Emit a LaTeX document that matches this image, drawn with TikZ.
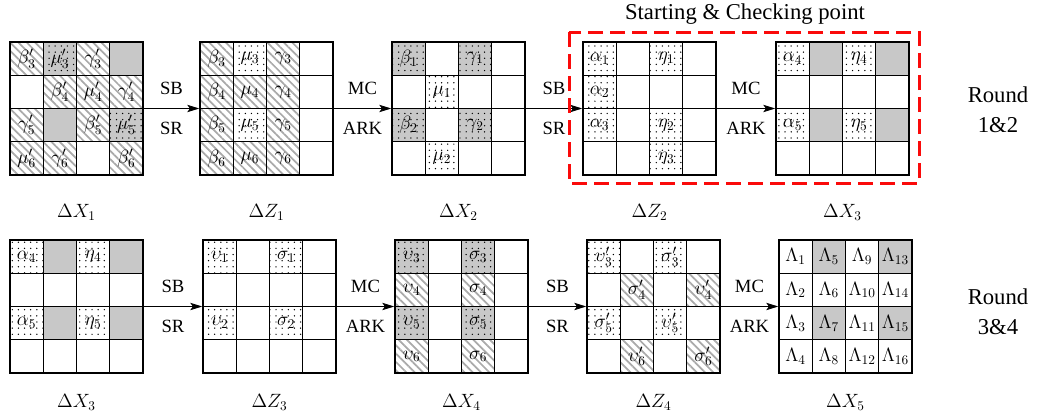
\documentclass[tikz,border=0pt]{standalone}
\usepackage{amsmath}
\usepackage{fontspec}
\setmainfont{Liberation Serif}
\usetikzlibrary{patterns.meta}
\usetikzlibrary{arrows.meta}
\usetikzlibrary{positioning}

\definecolor{cellgray}{RGB}{200,200,200}
\definecolor{hatchgray}{RGB}{170,170,170}
\definecolor{boxred}{RGB}{250,10,10}

\tikzset{
  cellnode/.style={minimum size=24.94pt, inner sep=0pt, font=\fontsize{14}{16}\selectfont},
  hatch/.style={pattern={Lines[angle=-45,distance=4.4pt,line width=1.3pt]}, pattern color=hatchgray},
  speck/.style={pattern={Dots[distance=4.6pt,radius=0.55pt]}, pattern color=black},
  greycell/.style={fill=cellgray},
  greyspeck/.style={preaction={fill=cellgray}, speck},
  blank/.style={},
  gridline/.style={line width=1.1pt},
  statenode/.style={draw, line width=1.1pt, minimum size=99.75pt, inner sep=0pt},
  statelabel/.style={inner sep=0pt, font=\fontsize{14}{16}\selectfont},
  flow/.style={-{Stealth[length=9pt,width=5.5pt,inset=2pt]}, line width=0.6pt},
  oplabel/.style={inner sep=0pt, font=\fontsize{14}{16}\selectfont},
  sidetext/.style={align=center, inner sep=0pt, font=\fontsize{17}{22.5}\selectfont},
}

% one 4x4 state: name, top-left x, top-left y, list of col/row/kind/label
\newcommand{\statebox}[4]{%
  \begin{scope}[shift={(#2,#3)}]
    \foreach \col/\row/\kind/\lab in {#4}
      \node[cellnode,\kind] (#1c\col\row) at ({(\col-0.5)*33.25},{(\row-0.5)*33.25}) {$\lab$};
    \foreach \i in {1,2,3} {
      \draw[gridline] ({\i*33.25},0) -- ({\i*33.25},133);
      \draw[gridline] (0,{\i*33.25}) -- (133,{\i*33.25});
    }
  \end{scope}
  \node[statenode] (#1) at ({#2+66.5},{#3+66.5}) {};
}

\begin{document}
\begin{tikzpicture}[x=0.75pt,y=0.75pt,yscale=-1,xscale=1]
\useasboundingbox (0,0) rectangle (1038,414);

%Round 1&2 states
\statebox{X1}{10}{42}{1/1/hatch/{\beta'_3}, 2/1/greyspeck/{\mu'_3}, 3/1/hatch/{\gamma'_3}, 4/1/greycell/{},
  2/2/hatch/{\beta'_4}, 3/2/hatch/{\mu'_4}, 4/2/hatch/{\gamma'_4},
  1/3/hatch/{\gamma'_5}, 2/3/greycell/{}, 3/3/hatch/{\beta'_5}, 4/3/greyspeck/{\mu'_5},
  1/4/hatch/{\mu'_6}, 2/4/hatch/{\gamma'_6}, 4/4/hatch/{\beta'_6}}
\statebox{Z1}{200}{42}{1/1/hatch/{\beta_3}, 2/1/speck/{\mu_3}, 3/1/hatch/{\gamma_3},
  1/2/hatch/{\beta_4}, 2/2/hatch/{\mu_4}, 3/2/hatch/{\gamma_4},
  1/3/hatch/{\beta_5}, 2/3/speck/{\mu_5}, 3/3/hatch/{\gamma_5},
  1/4/hatch/{\beta_6}, 2/4/hatch/{\mu_6}, 3/4/hatch/{\gamma_6}}
\statebox{X2}{392}{42}{1/1/greyspeck/{\beta_1}, 3/1/greyspeck/{\gamma_1}, 2/2/speck/{\mu_1},
  1/3/greyspeck/{\beta_2}, 3/3/greyspeck/{\gamma_2}, 2/4/speck/{\mu_2}}
\statebox{Z2}{583}{42}{1/1/speck/{\alpha_1}, 3/1/speck/{\eta_1}, 1/2/speck/{\alpha_2},
  1/3/speck/{\alpha_3}, 3/3/speck/{\eta_2}, 3/4/speck/{\eta_3}}
\statebox{X3a}{776}{42}{1/1/speck/{\alpha_4}, 2/1/greycell/{}, 3/1/speck/{\eta_4}, 4/1/greycell/{},
  1/3/speck/{\alpha_5}, 2/3/greycell/{}, 3/3/speck/{\eta_5}, 4/3/greycell/{}}

%Round 3&4 states
\statebox{X3b}{10}{240}{1/1/speck/{\alpha_4}, 2/1/greycell/{}, 3/1/speck/{\eta_4}, 4/1/greycell/{},
  1/3/speck/{\alpha_5}, 2/3/greycell/{}, 3/3/speck/{\eta_5}, 4/3/greycell/{}}
\statebox{Z3}{203}{240}{1/1/speck/{\upsilon_1}, 3/1/speck/{\sigma_1}, 1/3/speck/{\upsilon_2}, 3/3/speck/{\sigma_2}}
\statebox{X4}{395}{240}{1/1/greyspeck/{\upsilon_3}, 3/1/greyspeck/{\sigma_3}, 1/2/hatch/{\upsilon_4}, 3/2/hatch/{\sigma_4},
  1/3/greyspeck/{\upsilon_5}, 3/3/greyspeck/{\sigma_5}, 1/4/hatch/{\upsilon_6}, 3/4/hatch/{\sigma_6}}
\statebox{Z4}{587}{240}{1/1/speck/{\upsilon'_3}, 3/1/speck/{\sigma'_3}, 2/2/hatch/{\sigma'_4}, 4/2/hatch/{\upsilon'_4},
  1/3/speck/{\sigma'_5}, 3/3/speck/{\upsilon'_5}, 2/4/hatch/{\upsilon'_6}, 4/4/hatch/{\sigma'_6}}
\statebox{X5}{779}{240}{1/1/blank/{\Lambda_1}, 1/2/blank/{\Lambda_2}, 1/3/blank/{\Lambda_3}, 1/4/blank/{\Lambda_4},
  2/1/greycell/{\Lambda_5}, 2/2/blank/{\Lambda_6}, 2/3/greycell/{\Lambda_7}, 2/4/blank/{\Lambda_8},
  3/1/blank/{\Lambda_9}, 3/2/blank/{\Lambda_{10}}, 3/3/blank/{\Lambda_{11}}, 3/4/blank/{\Lambda_{12}},
  4/1/greycell/{\Lambda_{13}}, 4/2/blank/{\Lambda_{14}}, 4/3/greycell/{\Lambda_{15}}, 4/4/blank/{\Lambda_{16}}}

% Text Node
\node[statelabel, below=21pt of X1] (lX1) {$\Delta X_1$};
\node[statelabel, below=21pt of Z1] (lZ1) {$\Delta Z_1$};
\node[statelabel, below=21pt of X2] (lX2) {$\Delta X_2$};
\node[statelabel, below=21pt of Z2] (lZ2) {$\Delta Z_2$};
\node[statelabel, below=21pt of X3a] (lX3a) {$\Delta X_3$};
\node[statelabel, below=15pt of X3b] (lX3b) {$\Delta X_3$};
\node[statelabel, below=15pt of Z3] (lZ3) {$\Delta Z_3$};
\node[statelabel, below=15pt of X4] (lX4) {$\Delta X_4$};
\node[statelabel, below=15pt of Z4] (lZ4) {$\Delta Z_4$};
\node[statelabel, below=15pt of X5] (lX5) {$\Delta X_5$};

%Straight Lines
\draw[flow] (X1) -- (Z1) node[oplabel, midway, above=10pt] {SB} node[oplabel, midway, below=10pt] {SR};
\draw[flow] (Z1) -- (X2) node[oplabel, midway, above=10pt] {MC} node[oplabel, midway, below=10pt] {ARK};
\draw[flow] (X2) -- (Z2) node[oplabel, midway, above=10pt] {SB} node[oplabel, midway, below=10pt] {SR};
\draw[flow] (Z2) -- (X3a) node[oplabel, midway, above=10pt] {MC} node[oplabel, midway, below=10pt] {ARK};
\draw[flow] (X3b) -- (Z3) node[oplabel, midway, above=10pt] {SB} node[oplabel, midway, below=10pt] {SR};
\draw[flow] (Z3) -- (X4) node[oplabel, midway, above=10pt] {MC} node[oplabel, midway, below=10pt] {ARK};
\draw[flow] (X4) -- (Z4) node[oplabel, midway, above=10pt] {SB} node[oplabel, midway, below=10pt] {SR};
\draw[flow] (Z4) -- (X5) node[oplabel, midway, above=10pt] {MC} node[oplabel, midway, below=10pt] {ARK};

%Shape: Rectangle (dashed frame)
\draw[boxred, line width=2.25pt, dash pattern=on 11pt off 5.5pt] (569,32) rectangle (919,183);
\node[sidetext] (start) at (745,14) {Starting \& Checking point};

\node[sidetext] (round12) at (998,110) {Round\\1\&2};
\node[sidetext] (round34) at (998,312) {Round\\3\&4};

\end{tikzpicture}
\end{document}
